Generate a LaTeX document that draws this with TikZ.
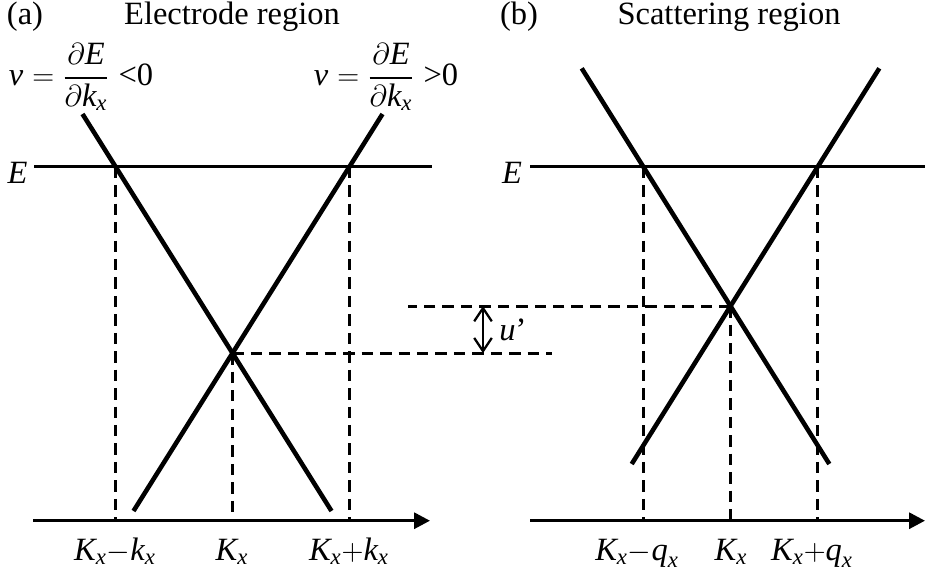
\documentclass[tikz,border=0pt]{standalone}
\usepackage{amsmath}
\usepackage{fontspec}
\setmainfont{Liberation Serif}
\usetikzlibrary{arrows.meta}

\tikzset{
  band/.style={line width=2.6pt},
  level/.style={line width=1.6pt},
  axis/.style={line width=1.8pt, -{Triangle[length=9pt,width=9pt]}},
  guide/.style={line width=1.6pt, dash pattern=on 6.5pt off 4pt},
  gaparrow/.style={line width=1.3pt, {Straight Barb[length=7.5pt,width=10pt]}-{Straight Barb[length=7.5pt,width=10pt]}},
  lbl/.style={font=\fontsize{18.5}{22}\selectfont, inner sep=0pt, anchor=base},
}
\newcommand{\vi}[1]{\textit{#1}}

\begin{document}
\begin{tikzpicture}[x=0.02cm, y=-0.02cm]
  \useasboundingbox (0,0) rectangle (925,579);

  % --- Titles ---
  \node[lbl] (taga)   at (25,24)  {(a)};
  \node[lbl] (titlea) at (232,24) {Electrode region};
  \node[lbl] (tagb)   at (519,24) {(b)};
  \node[lbl] (titleb) at (729,24) {Scattering region};

  % --- Panel (a): electrode ---
  \coordinate (a1top) at (82.5,114);
  \coordinate (a1bot) at (331.5,511);
  \coordinate (a2top) at (382.5,114);
  \coordinate (a2bot) at (133.5,511);
  \coordinate (aEl)   at (34,166.7);
  \coordinate (aEr)   at (432,166.7);
  \coordinate (aO)    at (33,520.7);
  \coordinate (aX)    at (430,520.7);
  \coordinate (aH)    at (552,353);
  \coordinate (aL) at (intersection of a1top--a1bot and aEl--aEr);
  \coordinate (aR) at (intersection of a2top--a2bot and aEl--aEr);
  \coordinate (aC) at (intersection of a1top--a1bot and a2top--a2bot);

  \draw[level] (aEl) -- (aEr);
  \draw[band] (a1top) -- (a1bot);
  \draw[band] (a2top) -- (a2bot);
  \draw[axis] (aO) -- (aX);
  \draw[guide] (aL) -- (aL |- aO);
  \draw[guide] (aC) -- (aC |- aO);
  \draw[guide] (aR) -- (aR |- aO);
  \draw[guide] (aC) -- (aC -| aH);

  \node[lbl] (Ea) at (17.5,183) {\vi{E}};
  \node[lbl] (vneg) at (81,85.5)
    {\vi{v}\;$=\dfrac{\partial\vi{E}}{\partial\vi{k}_{\vi{x}}}$\;<0};
  \node[lbl] (vpos) at (386,85.5)
    {\vi{v}\;$=\dfrac{\partial\vi{E}}{\partial\vi{k}_{\vi{x}}}$\;>0};
  \node[lbl] (ka1) at (115,560) {$\vi{K}_{\vi{x}}{-}\vi{k}_{\vi{x}}$};
  \node[lbl] (ka2) at (232,560) {$\vi{K}_{\vi{x}}$};
  \node[lbl] (ka3) at (349,560) {$\vi{K}_{\vi{x}}{+}\vi{k}_{\vi{x}}$};

  % --- Panel (b): scattering ---
  \coordinate (b1top) at (581.7,68.3);
  \coordinate (b1bot) at (829.3,464);
  \coordinate (b2top) at (879.3,68.3);
  \coordinate (b2bot) at (631.7,464);
  \coordinate (bEl)   at (530,166.7);
  \coordinate (bEr)   at (925,166.7);
  \coordinate (bO)    at (530,520.7);
  \coordinate (bX)    at (925,520.7);
  \coordinate (bH)    at (408,306);
  \coordinate (bL) at (intersection of b1top--b1bot and bEl--bEr);
  \coordinate (bR) at (intersection of b2top--b2bot and bEl--bEr);
  \coordinate (bC) at (intersection of b1top--b1bot and b2top--b2bot);

  \draw[level] (bEl) -- (bEr);
  \draw[band] (b1top) -- (b1bot);
  \draw[band] (b2top) -- (b2bot);
  \draw[axis] (bO) -- (bX);
  \draw[guide] (bL) -- (bL |- bO);
  \draw[guide] (bC) -- (bC |- bO);
  \draw[guide] (bR) -- (bR |- bO);
  \draw[guide] (bC) -- (bC -| bH);

  \node[lbl] (Eb) at (512,183) {\vi{E}};
  \node[lbl] (kb1) at (637,560) {$\vi{K}_{\vi{x}}{-}\vi{q}_{\vi{x}}$};
  \node[lbl] (kb2) at (731,560) {$\vi{K}_{\vi{x}}$};
  \node[lbl] (kb3) at (812,560) {$\vi{K}_{\vi{x}}{+}\vi{q}_{\vi{x}}$};

  % --- Shift between the two crossing points ---
  \coordinate (uA) at (483,0);
  \draw[gaparrow] (bC -| uA) -- (aC -| uA);
  \node[lbl, anchor=base west] (ushift) at (499,340) {\vi{u}’};
\end{tikzpicture}
\end{document}
